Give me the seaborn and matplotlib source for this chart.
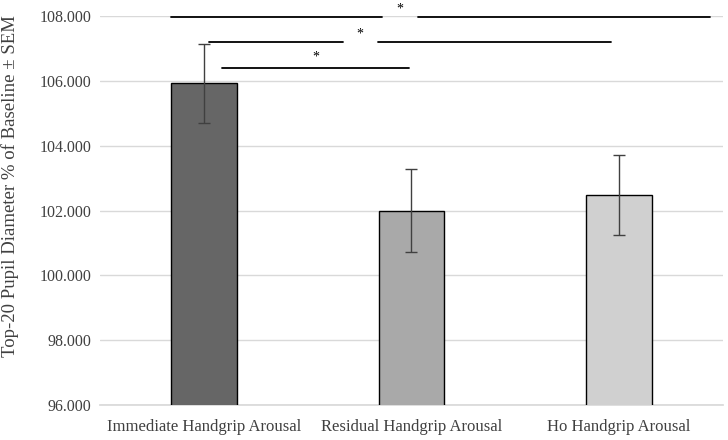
import pandas as pd
import matplotlib
matplotlib.use("Agg")
import matplotlib.pyplot as plt
import seaborn as sns

# Data
conditions = ["Immediate Handgrip Arousal", "Residual Handgrip Arousal", "Ho Handgrip Arousal"]
means = [105.93, 102.00, 102.47]
sems = [1.22, 1.27, 1.24]
bar_colors = ["#666666", "#a9a9a9", "#d0d0d0"]

# Significance brackets: (segments as (x0, x1), y, star x, star y)
sig_lines = [
    ([(-0.16, 0.86), (1.03, 2.44)], 107.97, 0.945, 108.22),
    ([(0.024, 0.67), (0.84, 1.96)], 107.20, 0.75, 107.45),
    ([(0.087, 0.99)], 106.40, 0.54, 106.72),
]

df = pd.DataFrame({"Condition": conditions, "Mean": means, "SEM": sems})

sns.set_theme(style="white")
plt.rcParams["font.family"] = ["Liberation Serif", "DejaVu Serif"]

fig = plt.figure(figsize=(7.28, 4.4), dpi=100)
ax = fig.add_axes([0.1374, 0.0795, 0.8556, 0.8841])

sns.barplot(data=df, x="Condition", y="Mean", hue="Condition", palette=bar_colors,
            width=0.316, edgecolor="black", linewidth=1.0, errorbar=None,
            legend=False, ax=ax, zorder=3)
ax.errorbar(range(len(conditions)), df["Mean"], yerr=df["SEM"], fmt="none",
            ecolor="#404040", elinewidth=1.0, capsize=4, capthick=1.0, zorder=4)

ax.set_ylim(96, 108)
ax.set_xlim(-0.5, 2.5)
ax.set_yticks([96, 98, 100, 102, 104, 106, 108])
ax.set_yticklabels([f"{v:.3f}" for v in [96, 98, 100, 102, 104, 106, 108]])
ax.yaxis.grid(True, color="#d9d9d9", linewidth=1.0, zorder=0)
ax.set_axisbelow(True)
for s in ["top", "right", "left"]:
    ax.spines[s].set_visible(False)
ax.spines["bottom"].set_color("#d9d9d9")
ax.tick_params(axis="y", length=0, labelsize=11.5, colors="#404040", pad=6)
ax.tick_params(axis="x", length=0, labelsize=12, colors="#404040", pad=10)
ax.set_xlabel("")
ax.set_ylabel("Top-20 Pupil Diameter % of Baseline \u00b1 SEM", fontsize=13.5, color="#404040")
ax.yaxis.set_label_coords(-0.13, 0.563)

for segs, y, sx, sy in sig_lines:
    for x0, x1 in segs:
        ax.plot([x0, x1], [y, y], color="black", linewidth=1.3, clip_on=False, zorder=5)
    ax.text(sx, sy, "*", ha="center", va="center", fontsize=10, color="black", clip_on=False)

fig.savefig("out.png", dpi=100)
